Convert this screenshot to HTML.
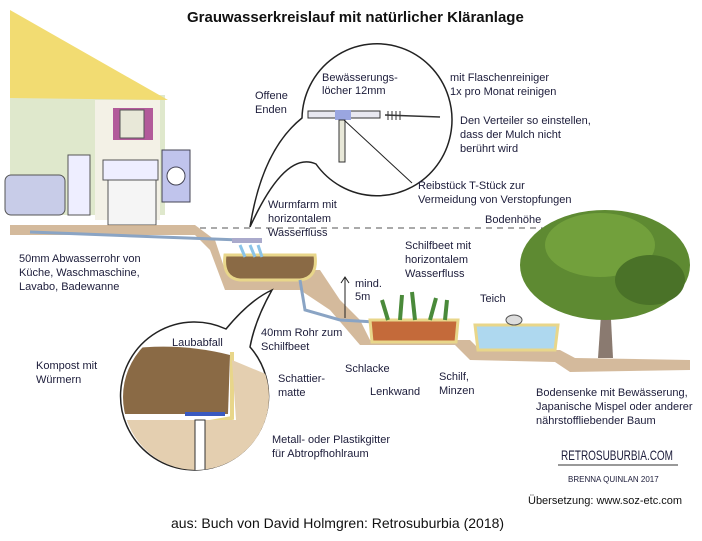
<!DOCTYPE html>
<html><head><meta charset="utf-8"><style>
html,body{margin:0;padding:0;background:#fff}
svg{display:block}
text{font-family:"Liberation Sans",sans-serif;font-size:11px;fill:#1c1c3a}
</style></head><body>
<svg width="702" height="541" viewBox="0 0 702 541">
<defs><clipPath id="bc"><circle cx="196" cy="397" r="73"/></clipPath></defs>
<!-- house -->
<polygon points="10,95 165,95 165,215 10,215" fill="#dfe8cc"/>
<polygon points="10,10 10,98 168,100" fill="#f2dc72"/>
<polygon points="95,100 160,100 160,220 95,220" fill="#f3f1e6"/>
<rect x="113" y="108" width="40" height="32" fill="#b25a9a"/>
<rect x="120" y="110" width="24" height="28" fill="#e8e8d8" stroke="#555"/>
<rect x="5" y="175" width="60" height="40" rx="6" fill="#c8cce8" stroke="#555"/>
<rect x="68" y="155" width="22" height="60" fill="#eef" stroke="#555"/>
<rect x="103" y="160" width="55" height="20" fill="#eef" stroke="#555"/>
<rect x="108" y="180" width="48" height="45" fill="#f5f5f5" stroke="#555"/>
<rect x="162" y="150" width="28" height="52" fill="#c0c4ec" stroke="#445"/>
<circle cx="176" cy="176" r="9" fill="#fff" stroke="#445"/>
<!-- ground -->
<path d="M10,225 L195,225 L215,240 L225,270 L320,270 L340,300 L360,320 L370,340 L470,340 L480,350 L560,350 L575,358 L690,360 L690,370 L570,372 L555,362 L470,360 L455,345 L360,345 L330,310 L300,290 L225,290 L210,250 L195,235 L10,235 Z" fill="#c9a983" opacity="0.8"/>
<line x1="200" y1="228" x2="560" y2="228" stroke="#555" stroke-dasharray="6,5"/>
<line x1="30" y1="232" x2="240" y2="240" stroke="#8aa4c4" stroke-width="3"/>
<!-- worm farm -->
<path d="M225,255 Q222,278 240,280 L300,280 Q318,278 315,255 Z" fill="#8a6a45" stroke="#e8d68a" stroke-width="3"/>
<rect x="232" y="238" width="30" height="5" fill="#aac" />
<path d="M240,245 l5,12 M250,245 l5,12 M258,245 l4,12" stroke="#8bc4e8" stroke-width="3"/>
<path d="M300,280 L305,310 L340,320 L375,322" fill="none" stroke="#8aa4c4" stroke-width="3"/>
<!-- reed bed -->
<path d="M370,320 L372,342 L456,342 L458,320 Z" fill="#c46a3a" stroke="#e8d68a" stroke-width="3"/>
<path d="M388,320 l-6,-20 M400,320 l2,-25 M415,320 l-3,-28 M430,320 l6,-22 M445,320 l2,-20" stroke="#4a8a3a" stroke-width="4"/>
<!-- pond -->
<path d="M475,325 L478,350 L555,350 L558,325 Z" fill="#aed8ef" stroke="#e8d68a" stroke-width="3"/>
<ellipse cx="514" cy="320" rx="8" ry="5" fill="#ddd" stroke="#555"/>
<!-- tree -->
<path d="M598,358 L602,300 L610,300 L613,358 Z" fill="#8a7a70"/>
<path d="M604,310 L580,290 M608,310 L640,285" stroke="#8a7a70" stroke-width="4"/>
<ellipse cx="605" cy="265" rx="85" ry="55" fill="#5e8a32"/>
<ellipse cx="600" cy="245" rx="55" ry="32" fill="#72a03c"/>
<ellipse cx="650" cy="280" rx="35" ry="25" fill="#4a7228"/>
<!-- top bubble -->
<path d="M250,227 Q262,150 302,118 A75,76 0 1 1 316,164 Q285,150 250,227 Z" fill="#fff" stroke="#222" stroke-width="1.5"/>
<rect x="308" y="111" width="72" height="7" fill="#e8e8f0" stroke="#333"/>
<rect x="335" y="110" width="16" height="10" fill="#9aa6e0"/>
<rect x="339" y="120" width="6" height="42" fill="#e8e8d8" stroke="#333"/>
<path d="M385,115 L440,117" stroke="#333" stroke-width="1.5"/>
<path d="M388,111 v9 M392,111 v9 M396,111 v9 M400,111 v9" stroke="#333"/>
<line x1="344" y1="120" x2="412" y2="183" stroke="#222"/>
<!-- bottom bubble -->
<path d="M226,329 Q250,300 272,290 Q255,320 250,347 A74,74 0 1 1 226,329 Z" fill="#fff" stroke="#222" stroke-width="1.5"/>
<g clip-path="url(#bc)">
<path d="M110,352 Q170,340 230,355 L228,414 L110,414 Z" fill="#8a6a45"/>
<path d="M185,414 L225,414" stroke="#3a5ac0" stroke-width="4"/>
<path d="M232,352 L232,418 L210,422" fill="none" stroke="#e8d68a" stroke-width="4"/>
<path d="M110,420 L280,420 L280,480 L110,480 Z" fill="#e4cfb0"/>
<path d="M232,360 L280,380 L280,420 L236,420 Z" fill="#e4cfb0"/>
<rect x="195" y="420" width="10" height="55" fill="#fff" stroke="#333"/>
</g>
<!-- labels -->
<text x="187" y="22" style="font-size:15px;font-weight:bold;fill:#111">Grauwasserkreislauf mit natürlicher Kläranlage</text>
<text x="255" y="99">Offene</text><text x="255" y="113">Enden</text>
<text x="322" y="81">Bewässerungs-</text><text x="322" y="94">löcher 12mm</text>
<text x="450" y="81">mit Flaschenreiniger</text><text x="450" y="95">1x pro Monat reinigen</text>
<text x="460" y="124">Den Verteiler so einstellen,</text><text x="460" y="138">dass der Mulch nicht</text><text x="460" y="152">berührt wird</text>
<text x="418" y="189">Reibstück T-Stück zur</text><text x="418" y="203">Vermeidung von Verstopfungen</text>
<text x="268" y="208">Wurmfarm mit</text><text x="268" y="222">horizontalem</text><text x="268" y="236">Wasserfluss</text>
<text x="485" y="223">Bodenhöhe</text>
<text x="19" y="262">50mm Abwasserrohr von</text><text x="19" y="276">Küche, Waschmaschine,</text><text x="19" y="290">Lavabo, Badewanne</text>
<text x="405" y="249">Schilfbeet mit</text><text x="405" y="263">horizontalem</text><text x="405" y="277">Wasserfluss</text>
<text x="355" y="287">mind.</text><text x="355" y="300">5m</text>
<line x1="345" y1="318" x2="345" y2="278" stroke="#222"/><path d="M341,283 L345,277 L349,283" fill="none" stroke="#222"/>
<text x="480" y="302">Teich</text>
<text x="261" y="336">40mm Rohr zum</text><text x="261" y="350">Schilfbeet</text>
<text x="172" y="346">Laubabfall</text>
<text x="36" y="369">Kompost mit</text><text x="36" y="383">Würmern</text>
<text x="345" y="372">Schlacke</text>
<text x="370" y="395">Lenkwand</text>
<text x="439" y="380">Schilf,</text><text x="439" y="394">Minzen</text>
<text x="278" y="382">Schattier-</text><text x="278" y="396">matte</text>
<text x="536" y="396">Bodensenke mit Bewässerung,</text><text x="536" y="410">Japanische Mispel oder anderer</text><text x="536" y="424">nährstoffliebender Baum</text>
<text x="272" y="443">Metall- oder Plastikgitter</text><text x="272" y="457">für Abtropfhohlraum</text>
<text x="561" y="460" textLength="112" lengthAdjust="spacingAndGlyphs" style="font-size:14px">RETROSUBURBIA.COM</text>
<line x1="558" y1="465" x2="678" y2="465" stroke="#333"/>
<text x="568" y="482" style="font-size:8px">BRENNA QUINLAN 2017</text>
<text x="528" y="504" style="fill:#111">Übersetzung: www.soz-etc.com</text>
<text x="171" y="528" style="font-size:14px;fill:#111">aus: Buch von David Holmgren: Retrosuburbia (2018)</text>
</svg>
</body></html>
